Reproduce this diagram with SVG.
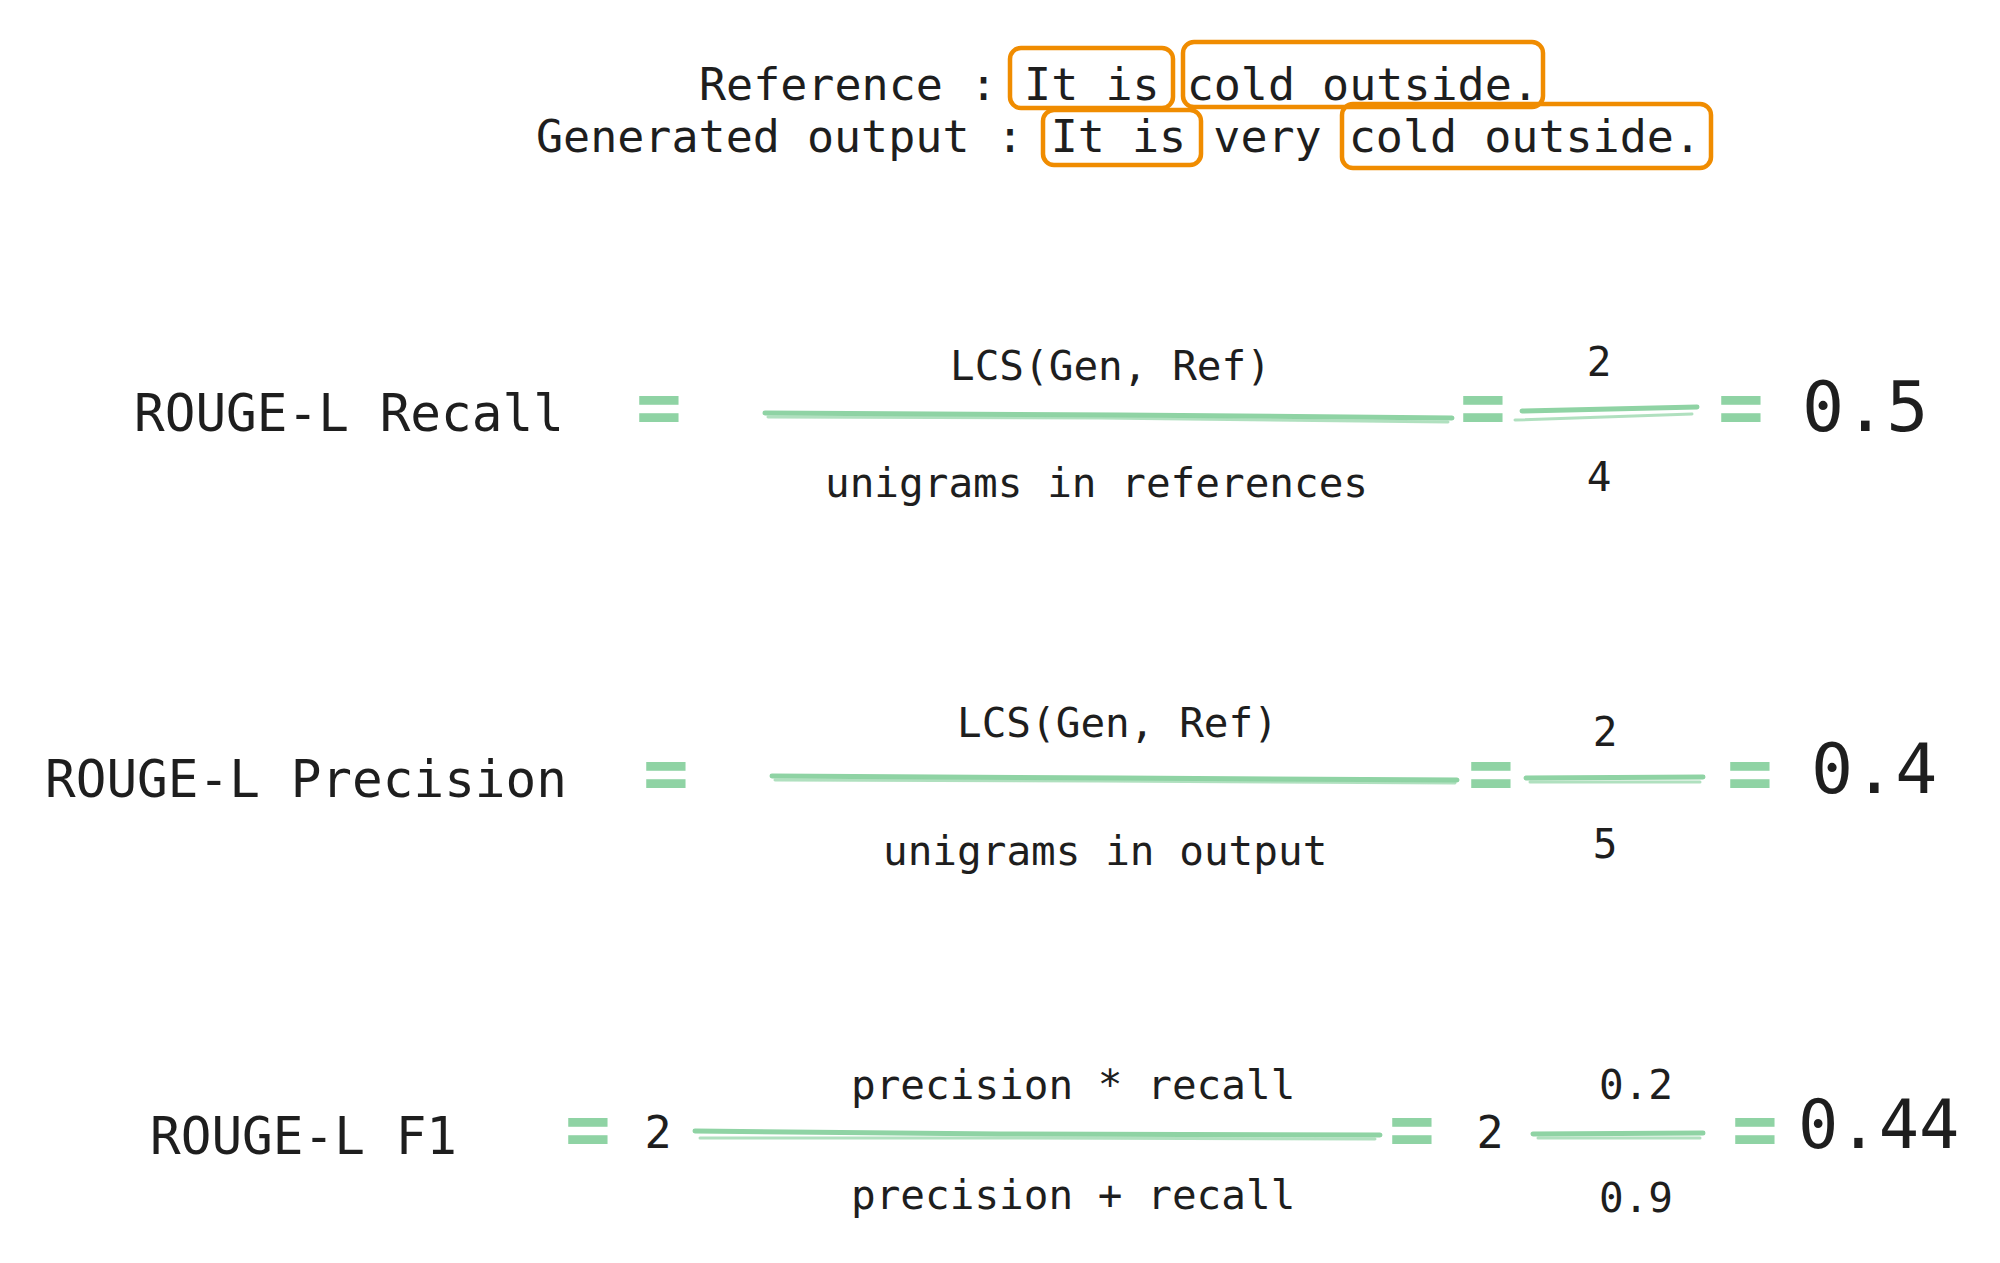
<svg xmlns="http://www.w3.org/2000/svg" width="2000" height="1263" viewBox="0 0 2000 1263">
<style>
.t{font-family:"DejaVu Sans Mono","Liberation Mono",monospace;fill:#1e1e1e}
.hd{font-size:45px}
.lb{font-size:51px}
.fr{font-size:41px}
.num{font-size:41px;text-anchor:middle}
.big{font-size:70px}
.eq{font-family:"DejaVu Sans Mono","Liberation Mono",monospace;font-weight:bold;font-size:76px;fill:#8fd3a4;text-anchor:middle}
.box{fill:none;stroke:#f08c00;stroke-width:4.5;stroke-linejoin:round}
.ln{fill:none;stroke:#8fd3a4;stroke-width:5;stroke-linecap:round}
.ln2{fill:none;stroke:#8fd3a4;stroke-width:3;stroke-linecap:round;opacity:0.7}
</style>
<rect width="2000" height="1263" fill="#ffffff"/>

<g id="header">
<text class="t hd" x="699" y="100">Reference : It is cold outside.</text>
<text class="t hd" x="536" y="152">Generated output : It is very cold outside.</text>
<rect class="box" x="1010" y="48" width="163" height="60" rx="11"/>
<rect class="box" x="1183" y="42" width="360" height="65" rx="11"/>
<rect class="box" x="1043" y="110" width="158" height="55" rx="11"/>
<rect class="box" x="1342" y="104" width="369" height="64" rx="11"/>
</g>

<g id="recall">
<text class="t lb" x="134" y="431">ROUGE-L Recall</text>
<text class="eq" x="659" y="433">=</text>
<text class="t fr" x="950" y="380">LCS(Gen, Ref)</text>
<text class="t fr" x="825" y="497">unigrams in references</text>
<text class="eq" x="1483" y="433">=</text>
<text class="t num" x="1599" y="376">2</text>
<text class="t num" x="1599" y="491">4</text>
<text class="eq" x="1741" y="433">=</text>
<text class="t big" x="1802" y="431">0.5</text>
</g>

<g id="precision">
<text class="t lb" x="45" y="797">ROUGE-L Precision</text>
<text class="eq" x="666" y="799">=</text>
<text class="t fr" x="957" y="737">LCS(Gen, Ref)</text>
<text class="t fr" x="883" y="865">unigrams in output</text>
<text class="eq" x="1491" y="799">=</text>
<text class="t num" x="1605" y="746">2</text>
<text class="t num" x="1605" y="858">5</text>
<text class="eq" x="1750" y="799">=</text>
<text class="t big" x="1811" y="793">0.4</text>
</g>

<g id="f1">
<text class="t lb" x="150" y="1154">ROUGE-L F1</text>
<text class="eq" x="588" y="1155">=</text>
<text class="t lb" x="658" y="1148" text-anchor="middle" style="font-size:45px">2</text>
<text class="t fr" x="851" y="1099">precision * recall</text>
<text class="t fr" x="851" y="1209">precision + recall</text>
<text class="eq" x="1412" y="1155">=</text>
<text class="t lb" x="1490" y="1148" text-anchor="middle" style="font-size:45px">2</text>
<text class="t num" x="1636" y="1099">0.2</text>
<text class="t num" x="1636" y="1212">0.9</text>
<text class="eq" x="1755" y="1155">=</text>
<text class="t big" x="1798" y="1148" style="font-size:67px">0.44</text>
</g>

<g id="connectors">
<path class="ln" d="M765 413 L1120 415 L1452 418"/>
<path class="ln2" d="M768 417 L1100 418 L1448 422"/>
<path class="ln" d="M1522 411 L1697 407"/>
<path class="ln2" d="M1515 420 L1692 414"/>
<path class="ln" d="M772 776 L1120 778 L1457 780"/>
<path class="ln2" d="M775 780 L1100 781 L1455 783"/>
<path class="ln" d="M1526 778 L1703 777"/>
<path class="ln2" d="M1530 782 L1700 782"/>
<path class="ln" d="M695 1131 L1000 1134 L1380 1135"/>
<path class="ln2" d="M700 1138 L1000 1138 L1375 1139"/>
<path class="ln" d="M1533 1134 L1703 1133"/>
<path class="ln2" d="M1538 1138 L1700 1138"/>
</g>
</svg>
